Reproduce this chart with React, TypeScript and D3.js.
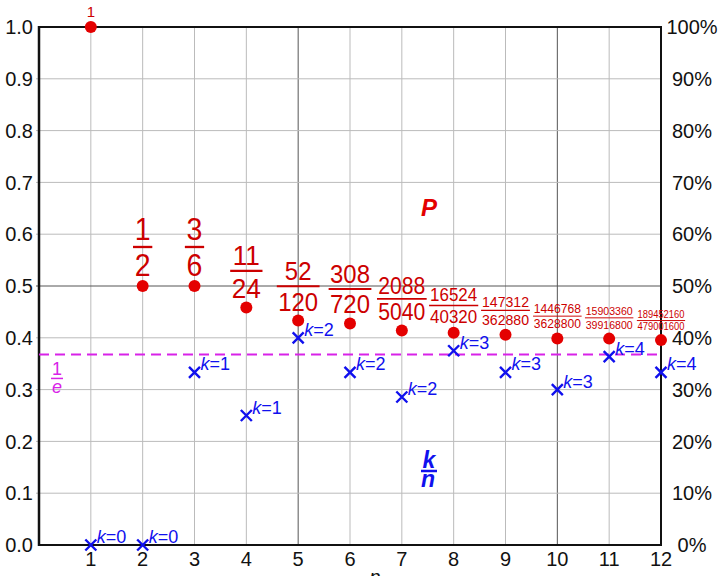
import React from 'react';
import * as d3 from 'd3';

const nValues = [1, 2, 3, 4, 5, 6, 7, 8, 9, 10, 11, 12];
const pNumerators = [1, 1, 3, 11, 52, 308, 2088, 16524, 147312, 1446768, 15903360, 189452160];
const pDenominators = [1, 2, 6, 24, 120, 720, 5040, 40320, 362880, 3628800, 39916800, 479001600];
const kValues = [0, 0, 1, 1, 2, 2, 2, 3, 3, 3, 4, 4];
const yTicks = [0, 0.1, 0.2, 0.3, 0.4, 0.5, 0.6, 0.7, 0.8, 0.9, 1.0];
const rightTickLabels = ['0%', '10%', '20%', '30%', '40%', '50%', '60%', '70%', '80%', '90%', '100%'];
const xTicks = [1, 2, 3, 4, 5, 6, 7, 8, 9, 10, 11, 12];
const invE = 1 / Math.E;

const FONT = '"Liberation Sans", Arial, Helvetica, sans-serif';
const RED = '#e40000';
const DARKRED = '#cc0000';
const BLUE = '#1010ee';
const MAGENTA = '#d822e8';
const SX = 0.92;

export default function App() {
  const x = d3.scaleLinear().domain([0, 12]).range([39, 661]);
  const y = d3.scaleLinear().domain([0, 1]).range([545, 27]);

  const gridX = d3.range(1, 12);
  const gridY = yTicks.slice(1, -1);

  const fracSize = (d: number) => Math.min(31 - 2.5 * (d - 1), 47 / (0.51 * d));

  return (
    <svg width={718} height={576} style={{ position: 'absolute', left: 0, top: 0, fontFamily: FONT }}>
      <rect x={0} y={0} width={718} height={576} fill="#fff" />
      {/* grid */}
      {gridX.map((v) => (
        <line key={'gx' + v} x1={x(v)} x2={x(v)} y1={y(1)} y2={y(0)}
          stroke={v % 5 === 0 ? '#555' : '#bbb'} strokeWidth={1} />
      ))}
      {gridY.map((v) => (
        <line key={'gy' + v} x1={x(0) - 3} x2={x(12)} y1={y(v)} y2={y(v)}
          stroke={Math.abs(v - 0.5) < 1e-9 ? '#555' : '#bbb'} strokeWidth={1} />
      ))}
      {/* frame */}
      <rect x={x(0)} y={y(1)} width={x(12) - x(0)} height={y(0) - y(1)} fill="none" stroke="#111" strokeWidth={2} />
      <line x1={x(0)} x2={x(0)} y1={y(1) - 1} y2={y(0) + 1} stroke="#111" strokeWidth={2.5} />

      {/* left tick labels */}
      {yTicks.map((v) => (
        <text key={'yl' + v} x={33} y={y(v)} dy="0.36em" textAnchor="end" fontSize={20} fill="#111">
          {d3.format('.1f')(v)}
        </text>
      ))}
      {/* right tick labels */}
      {yTicks.map((v, i) => (
        <text key={'yr' + v} x={692} y={y(v)} dy="0.36em" textAnchor="middle" fontSize={20} fill="#111">
          {rightTickLabels[i]}
        </text>
      ))}
      {/* bottom tick labels */}
      {xTicks.map((v) => (
        <text key={'xl' + v} x={x(v)} y={566} textAnchor="middle" fontSize={20} fill="#111">{v}</text>
      ))}
      <text x={375} y={584} textAnchor="middle" fontSize={20} fontStyle="italic" fill="#111">n</text>

      {/* 1/e line */}
      <line x1={x(0)} x2={x(12)} y1={y(invE)} y2={y(invE)} stroke={MAGENTA} strokeWidth={2} strokeDasharray="10,6" />
      <g fill={MAGENTA} fontSize={18}>
        <text x={57} y={y(invE) + 21} textAnchor="middle">1</text>
        <line x1={51} x2={63} y1={y(invE) + 24} y2={y(invE) + 24} stroke={MAGENTA} strokeWidth={1.5} />
        <text x={57} y={y(invE) + 39} textAnchor="middle" fontStyle="italic">e</text>
      </g>

      {/* k/n crosses */}
      {nValues.map((n, i) => {
        const cx = x(n);
        const cy = y(kValues[i] / n);
        const s = 5.5;
        return (
          <g key={'k' + n}>
            <path d={`M${cx - s},${cy - s}L${cx + s},${cy + s}M${cx - s},${cy + s}L${cx + s},${cy - s}`}
              stroke={BLUE} strokeWidth={2.4} fill="none" />
            <text x={cx + 6} y={cy - 2} fontSize={18} fill={BLUE}>
              <tspan fontStyle="italic">k</tspan>={kValues[i]}
            </text>
          </g>
        );
      })}

      {/* P points */}
      {nValues.map((n, i) => (
        <circle key={'p' + n} cx={x(n)} cy={y(pNumerators[i] / pDenominators[i])} r={6} fill={RED} />
      ))}

      {/* fraction labels */}
      {nValues.map((n, i) => {
        const px = x(n);
        const py = y(pNumerators[i] / pDenominators[i]);
        if (pDenominators[i] === 1) {
          return (
            <text key={'f' + n} x={px} y={py - 10} textAnchor="middle" fontSize={15} fill={DARKRED}>
              {pNumerators[i]}
            </text>
          );
        }
        const den = String(pDenominators[i]);
        const d = den.length;
        const fs = fracSize(d);
        const capH = 0.716 * fs;
        const g = 0.22 * fs;
        const lineY = -capH - g;
        const w = d * 0.556 * fs + 0.12 * fs;
        return (
          <g key={'f' + n} transform={`translate(${px},${py - 10}) scale(${SX},1)`} fill={DARKRED}>
            <text x={0} y={0} textAnchor="middle" fontSize={fs}>{den}</text>
            <line x1={-w / 2} x2={w / 2} y1={lineY} y2={lineY} stroke={DARKRED} strokeWidth={Math.max(1, fs * 0.075)} />
            <text x={0} y={lineY - g} textAnchor="middle" fontSize={fs}>{pNumerators[i]}</text>
          </g>
        );
      })}

      {/* series labels */}
      <text x={429} y={216} textAnchor="middle" fontSize={24} fontWeight="bold" fontStyle="italic" fill={RED}>P</text>
      <g fill={BLUE} fontSize={23} fontWeight="bold" fontStyle="italic">
        <text x={429} y={468} textAnchor="middle">k</text>
        <line x1={421} x2={437} y1={471} y2={471} stroke={BLUE} strokeWidth={2.5} />
        <text x={428} y={487} textAnchor="middle">n</text>
      </g>
    </svg>
  );
}
